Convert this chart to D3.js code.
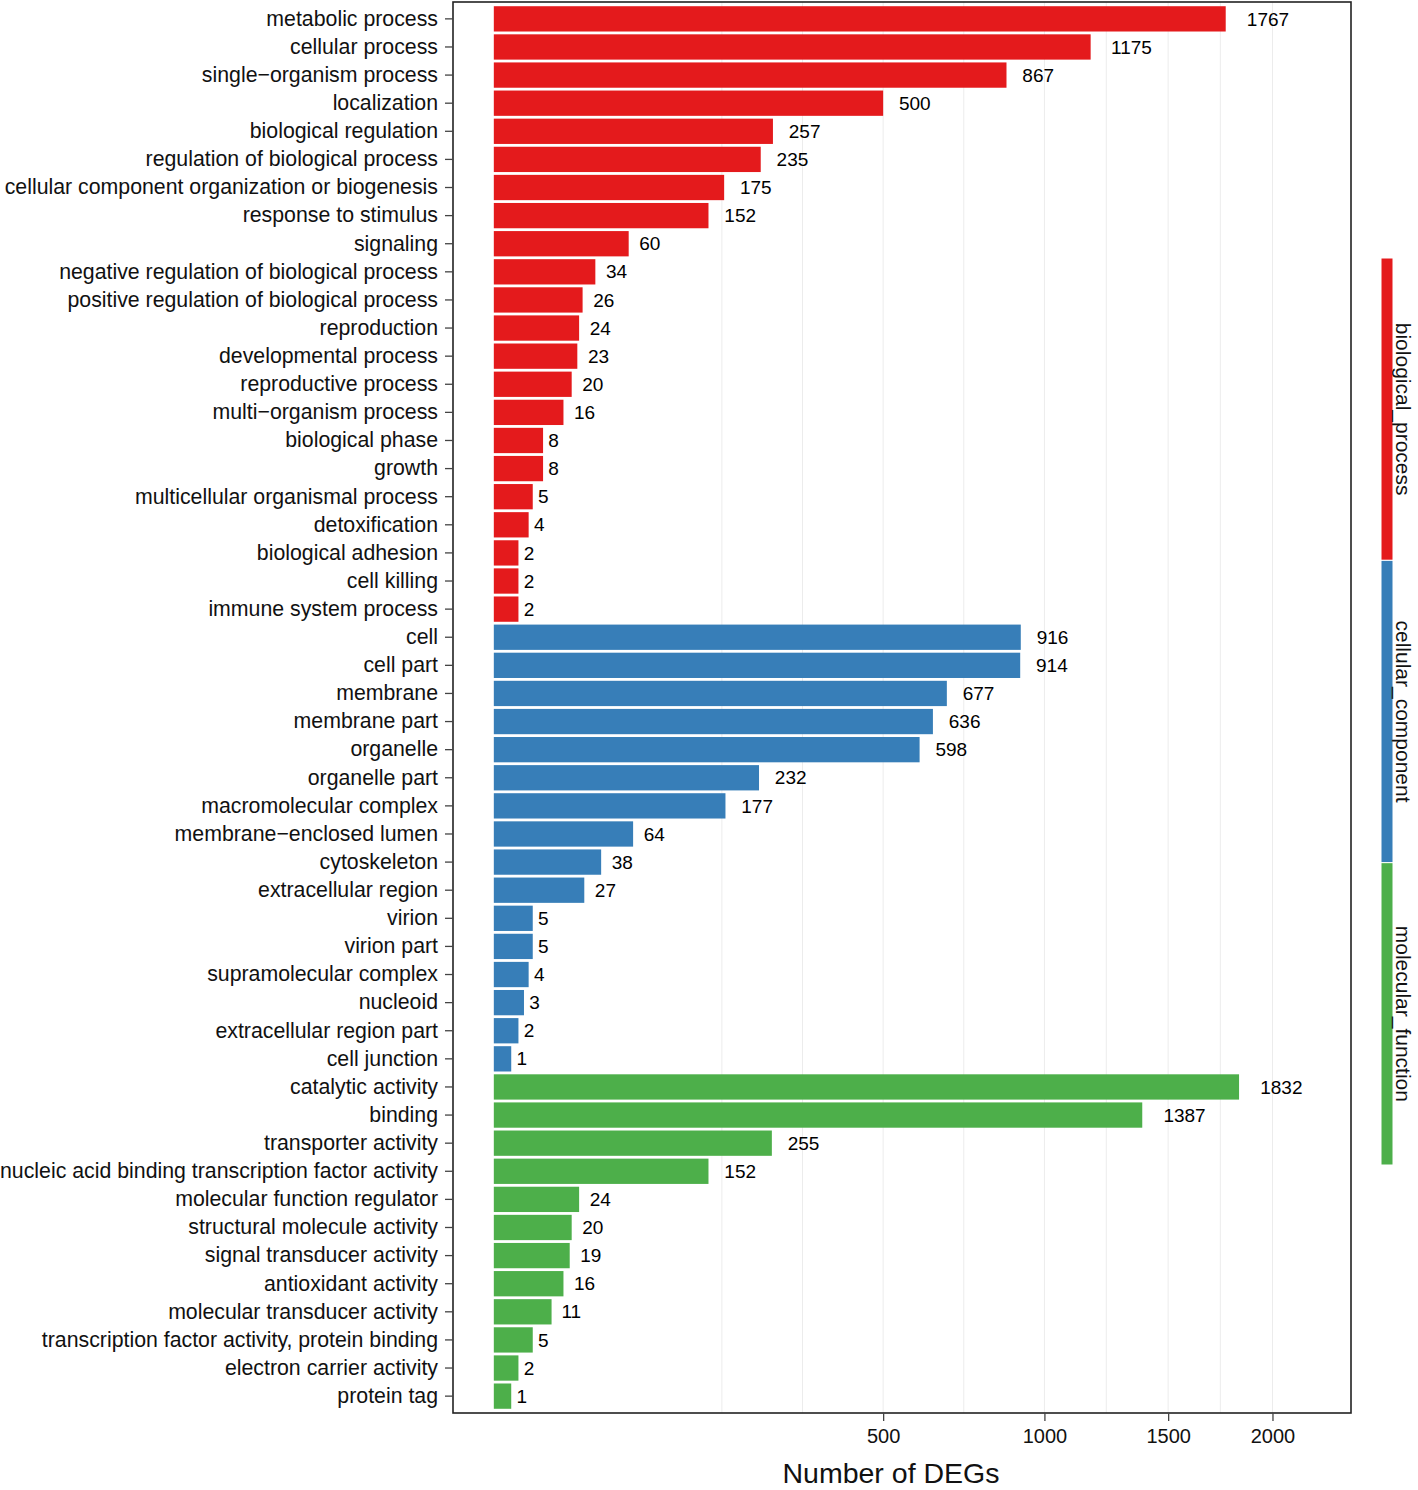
<!DOCTYPE html>
<html>
<head>
<meta charset="utf-8">
<script src="https://cdn.jsdelivr.net/npm/d3@7"></script>
<style>
  html, body { margin: 0; padding: 0; background: #fff; }
  svg text { font-family: "Liberation Sans", Arial, Helvetica, sans-serif; }
</style>
</head>
<body>
<svg id="chart" width="1418" height="1490"></svg>
<script>
// ---------------- data ----------------
const bpTerms = ["metabolic process","cellular process","single\u2212organism process","localization","biological regulation","regulation of biological process","cellular component organization or biogenesis","response to stimulus","signaling","negative regulation of biological process","positive regulation of biological process","reproduction","developmental process","reproductive process","multi\u2212organism process","biological phase","growth","multicellular organismal process","detoxification","biological adhesion","cell killing","immune system process"];
const bpValues = [1767,1175,867,500,257,235,175,152,60,34,26,24,23,20,16,8,8,5,4,2,2,2];

const ccTerms = ["cell","cell part","membrane","membrane part","organelle","organelle part","macromolecular complex","membrane\u2212enclosed lumen","cytoskeleton","extracellular region","virion","virion part","supramolecular complex","nucleoid","extracellular region part","cell junction"];
const ccValues = [916,914,677,636,598,232,177,64,38,27,5,5,4,3,2,1];

const mfTerms = ["catalytic activity","binding","transporter activity","nucleic acid binding transcription factor activity","molecular function regulator","structural molecule activity","signal transducer activity","antioxidant activity","molecular transducer activity","transcription factor activity, protein binding","electron carrier activity","protein tag"];
const mfValues = [1832,1387,255,152,24,20,19,16,11,5,2,1];

const groupNames = ["biological_process","cellular_component","molecular_function"];
const groupColors = ["#E41A1C","#377EB8","#4DAF4A"];
const xTickValues = [500,1000,1500,2000];
const xTitle = "Number of DEGs";

// ---------------- build rows ----------------
const rows = [];
[[bpTerms,bpValues],[ccTerms,ccValues],[mfTerms,mfValues]].forEach(([t,v],gi)=>{
  t.forEach((name,i)=>rows.push({term:name, value:v[i], group:groupNames[gi]}));
});

// ---------------- layout ----------------
const svg = d3.select("#chart");
const P = {left:453, right:1351, top:2, bottom:1413};
const pw = P.right - P.left;
const exp = 0.05/1.1*pw;

const x = d3.scaleSqrt()
  .domain([0, d3.max(rows, d=>d.value)*1.2])
  .range([P.left+exp, P.right-exp]);

const y = d3.scaleBand()
  .domain(rows.map(d=>d.term))
  .range([P.top, P.bottom])
  .paddingInner(0.1)
  .paddingOuter(0.15);

const color = d3.scaleOrdinal().domain(groupNames).range(groupColors);

// gridlines: majors + ggplot-style minor breaks (midpoints in sqrt space)
const sMaj = xTickValues.map(Math.sqrt);
const step0 = sMaj[1]-sMaj[0], stepN = sMaj[sMaj.length-1]-sMaj[sMaj.length-2];
const ext = [sMaj[0]-step0, ...sMaj, sMaj[sMaj.length-1]+stepN];
const gridS = [...ext];
for (let i=0;i<ext.length-1;i++) gridS.push((ext[i]+ext[i+1])/2);
const sMax = Math.sqrt(x.domain()[1]);
const gridVals = gridS.filter(s=>s>0 && s<=sMax).map(s=>s*s);

svg.append("g").selectAll("line").data(gridVals).join("line")
  .attr("x1",d=>x(d)).attr("x2",d=>x(d))
  .attr("y1",P.top).attr("y2",P.bottom)
  .attr("stroke","#ececec").attr("stroke-width",1);

// bars
svg.append("g").selectAll("rect").data(rows).join("rect")
  .attr("x", x(0))
  .attr("y", d=>y(d.term))
  .attr("width", d=>x(d.value)-x(0))
  .attr("height", y.bandwidth())
  .attr("fill", d=>color(d.group));

// value labels (hjust = -0.5)
svg.append("g").selectAll("text").data(rows).join("text")
  .attr("y", d=>y(d.term)+y.bandwidth()/2)
  .attr("dy","0.35em")
  .attr("font-size","19px")
  .attr("fill","#000")
  .text(d=>d.value)
  .attr("x", function(d){ return x(d.value) + 0.5*this.getComputedTextLength(); });

// panel border
svg.append("rect")
  .attr("x",P.left).attr("y",P.top).attr("width",pw).attr("height",P.bottom-P.top)
  .attr("fill","none").attr("stroke","#222").attr("stroke-width",1.6);

// y axis
const yAxis = svg.append("g").attr("transform",`translate(${P.left},0)`)
  .call(d3.axisLeft(y).tickSize(8).tickPadding(7));
yAxis.select(".domain").remove();
yAxis.selectAll(".tick line").attr("stroke","#444").attr("stroke-width",1.3);
yAxis.selectAll(".tick text").attr("font-size","21.3px").attr("fill","#111")
  .attr("font-family",'"Liberation Sans", Arial, sans-serif');

// x axis
const xAxis = svg.append("g").attr("transform",`translate(0,${P.bottom})`)
  .call(d3.axisBottom(x).tickValues(xTickValues).tickSize(8).tickPadding(8).tickFormat(d3.format("d")));
xAxis.select(".domain").remove();
xAxis.selectAll(".tick line").attr("stroke","#444").attr("stroke-width",1.3);
xAxis.selectAll(".tick text").attr("font-size","20px").attr("fill","#111")
  .attr("font-family",'"Liberation Sans", Arial, sans-serif');

// x title
svg.append("text")
  .attr("x", (P.left+P.right)/2 - 11)
  .attr("y", 1483)
  .attr("text-anchor","middle")
  .attr("font-size","28.5px")
  .attr("fill","#111")
  .text(xTitle);

// group colour strip on the right
const strip = {x:1381, w:12, top:258, bottom:1165};
const sy = d3.scaleBand().domain(groupNames).range([strip.top, strip.bottom]);
const sg = svg.append("g");
sg.selectAll("rect").data(groupNames).join("rect")
  .attr("x", strip.x).attr("y", d=>sy(d)).attr("width", strip.w).attr("height", sy.bandwidth())
  .attr("fill", d=>color(d)).attr("stroke","#fff").attr("stroke-width",1);
sg.selectAll("text").data(groupNames).join("text")
  .attr("transform", d=>`translate(${strip.x+strip.w+3},${sy(d)+sy.bandwidth()/2}) rotate(90)`)
  .attr("text-anchor","middle")
  .attr("font-size","21px")
  .attr("fill","#111")
  .text(d=>d);
</script>
</body>
</html>
